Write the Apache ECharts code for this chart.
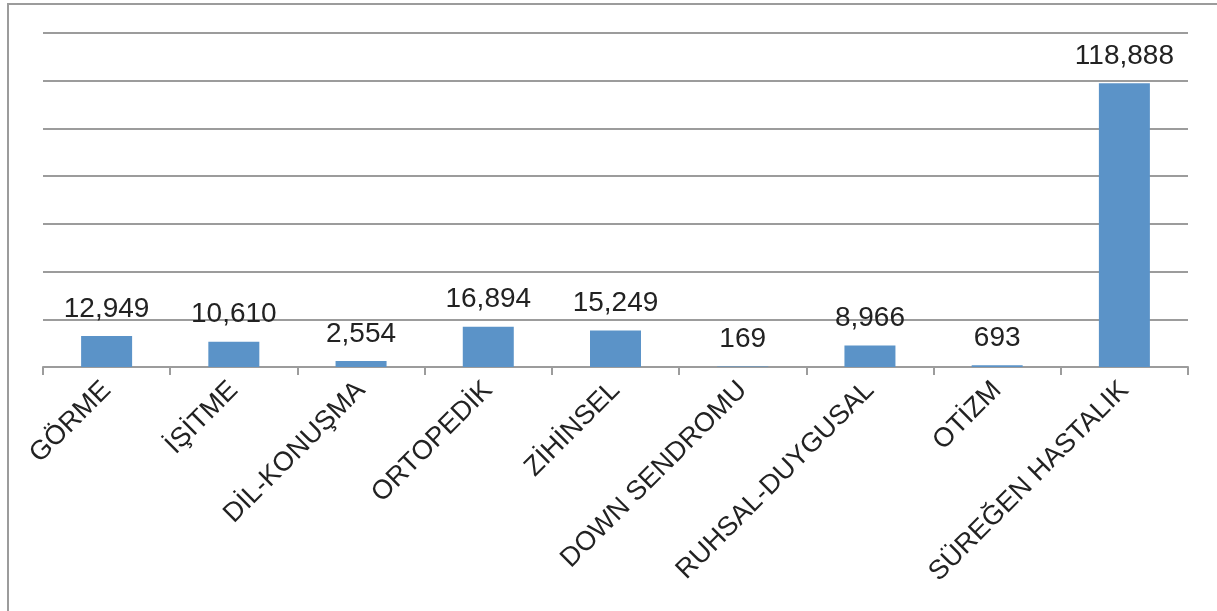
<!DOCTYPE html>
<html>
<head>
<meta charset="utf-8">
<script src="https://cdn.jsdelivr.net/npm/echarts@6/dist/echarts.min.js"></script>
<style>
    html, body { margin: 0; padding: 0; background: #fff; }
    #main { width: 1217px; height: 611px; }
</style>
</head>
<body>
<div id="main"></div>

<script type="text/javascript">

    var categories = ["GÖRME", "İŞİTME", "DİL-KONUŞMA", "ORTOPEDİK", "ZİHİNSEL",
        "DOWN SENDROMU", "RUHSAL-DUYGUSAL", "OTİZM", "SÜREĞEN HASTALIK"];
    var values = [12949, 10610, 2554, 16894, 15249, 169, 8966, 693, 118888];

    var chart = echarts.init(document.getElementById('main'));

    var option = {
        animation: false,
        textStyle: { fontFamily: "Liberation Sans, Arial, sans-serif" },
        grid: { left: 43, right: 29, top: 33, bottom: 244 },
        graphic: [{
            type: 'rect',
            shape: { x: 8, y: 4, width: 1400, height: 800 },
            style: { fill: 'none', stroke: '#9c9c9c', lineWidth: 2 },
            silent: true
        }],
        xAxis: {
            type: 'category',
            data: categories,
            axisLine: { lineStyle: { color: '#9c9c9c', width: 2 } },
            axisTick: { show: true, length: 8, lineStyle: { color: '#9c9c9c', width: 2 } },
            axisLabel: {
                rotate: 45,
                interval: 0,
                margin: 19,
                fontSize: 27,
                color: '#222'
            }
        },
        yAxis: {
            type: 'value',
            min: 0,
            max: 140000,
            interval: 20000,
            axisLabel: { show: false },
            axisLine: { show: false },
            axisTick: { show: false },
            splitLine: { lineStyle: { color: '#9c9c9c', width: 2 } }
        },
        series: [{
            type: 'bar',
            data: values,
            barWidth: 51,
            itemStyle: { color: '#5b93c8' },
            label: {
                show: true,
                position: 'top',
                distance: 13,
                fontSize: 28,
                color: '#222',
                formatter: function (p) { return p.value.toLocaleString('en-US'); }
            }
        }]
    };

    chart.setOption(option);
</script>
</body>
</html>
